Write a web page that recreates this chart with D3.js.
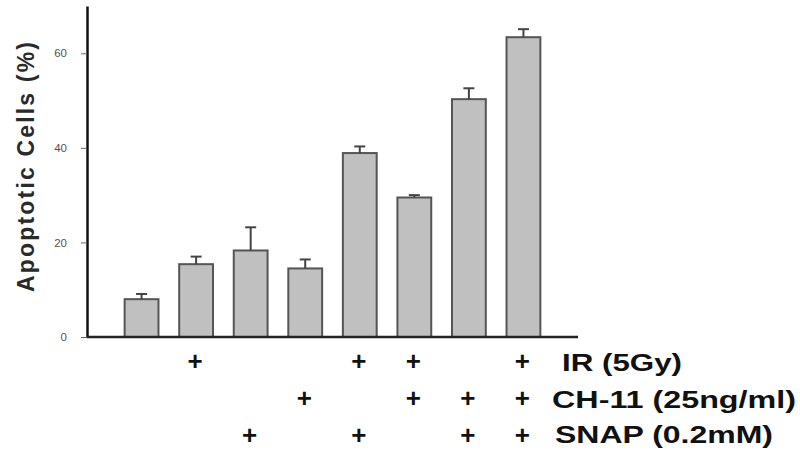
<!DOCTYPE html>
<html>
<head>
<meta charset="utf-8">
<script src="https://cdn.jsdelivr.net/npm/d3@7"></script>
<style>
  html, body { margin: 0; padding: 0; background: #fff; }
  svg { display: block; }
</style>
</head>
<body>
<svg id="chart" width="800" height="452"></svg>
<script>
// ---- data ----
const categories = ["1", "2", "3", "4", "5", "6", "7", "8"];
const values = [8.0, 15.4, 18.3, 14.5, 38.9, 29.5, 50.3, 63.4];
const errors = [1.1, 1.6, 4.9, 1.9, 1.4, 0.5, 2.3, 1.7];
const irRow = [0, 1, 0, 0, 1, 1, 0, 1];
const ch11Row = [0, 0, 0, 1, 0, 1, 1, 1];
const snapRow = [0, 0, 1, 0, 1, 0, 1, 1];
const treatmentLabels = ["IR (5Gy)", "CH-11 (25ng/ml)", "SNAP (0.2mM)"];
const yTicks = [0, 20, 40, 60];
const yTitle = "Apoptotic Cells (%)";

// ---- drawing ----
const svg = d3.select("#chart");
const font = "'Liberation Sans', Arial, sans-serif";

const x = d3.scaleBand().domain(categories).range([87, 578])
  .paddingInner(0.38).paddingOuter(0.69);
const y = d3.scaleLinear().domain([0, 70]).range([337, 6]);

// bars
svg.append("g").selectAll("rect").data(categories).join("rect")
  .attr("x", d => x(d))
  .attr("y", (d, i) => y(values[i]))
  .attr("width", x.bandwidth())
  .attr("height", (d, i) => y(0) - y(values[i]))
  .attr("fill", "#c0c0c0")
  .attr("stroke", "#555")
  .attr("stroke-width", 2);

// error bars (upper only)
const eg = svg.append("g").attr("stroke", "#444").attr("stroke-width", 2);
categories.forEach((c, i) => {
  const cx = x(c) + x.bandwidth() / 2;
  eg.append("line").attr("x1", cx).attr("x2", cx)
    .attr("y1", y(values[i])).attr("y2", y(values[i] + errors[i]));
  eg.append("line").attr("x1", cx - 5.5).attr("x2", cx + 5.5)
    .attr("y1", y(values[i] + errors[i])).attr("y2", y(values[i] + errors[i]));
});

// y axis
const yAxis = svg.append("g").attr("transform", "translate(87,0)")
  .call(d3.axisLeft(y).tickValues(yTicks).tickSizeInner(6).tickSizeOuter(0).tickPadding(14));
yAxis.select(".domain").attr("stroke", "#111").attr("stroke-width", 2.5);
yAxis.selectAll(".tick line").attr("stroke", "#666").attr("stroke-width", 1);
yAxis.selectAll(".tick text").attr("fill", "#555").attr("font-size", 11.5)
  .attr("font-family", font);

// x axis line
svg.append("line")
  .attr("x1", x.range()[0]).attr("x2", x.range()[1])
  .attr("y1", y(0)).attr("y2", y(0))
  .attr("stroke", "#222").attr("stroke-width", 2.5);

// y title
svg.append("text")
  .attr("transform", `translate(34,${(42 + 292) / 2}) rotate(-90)`)
  .attr("text-anchor", "middle")
  .attr("font-family", font).attr("font-weight", "bold")
  .attr("font-size", 23).attr("fill", "#2a2a2a")
  .attr("textLength", 250).attr("lengthAdjust", "spacing")
  .text(yTitle);

// treatment rows
const rows = [irRow, ch11Row, snapRow];
const rowCenters = [361, 398, 435];
const labelX = [562, 552, 555];
const labelLen = [120, 244, 218];
const labelBase = [371, 408, 443];
rows.forEach((row, r) => {
  const g = svg.append("g");
  g.selectAll("text").data(categories.filter((c, i) => row[i])).join("text")
    .attr("x", d => x(d) + x.bandwidth() / 2 - 1)
    .attr("y", rowCenters[r] + 8.5)
    .attr("text-anchor", "middle")
    .attr("font-family", font).attr("font-weight", "bold")
    .attr("font-size", 26).attr("fill", "#111")
    .text("+");
  svg.append("text")
    .attr("x", labelX[r]).attr("y", labelBase[r])
    .attr("font-family", font).attr("font-weight", "bold")
    .attr("font-size", 23).attr("fill", "#111")
    .attr("textLength", labelLen[r]).attr("lengthAdjust", "spacingAndGlyphs")
    .text(treatmentLabels[r]);
});
</script>
</body>
</html>
